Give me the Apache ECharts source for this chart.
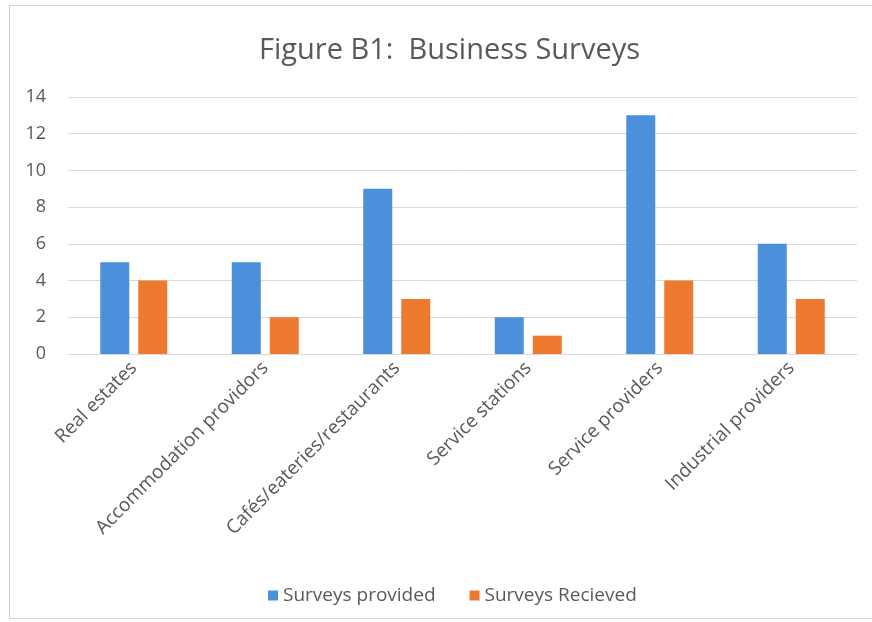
<!DOCTYPE html>
<html><head><meta charset="utf-8">
<script src="https://cdn.jsdelivr.net/npm/echarts@6/dist/echarts.min.js"></script>
<style>html,body{margin:0;padding:0;background:#fff}#c{width:872px;height:622px}
#frame{position:absolute;left:9px;top:5px;width:870px;height:612px;border:1px solid #d0d0d0;border-right:none;pointer-events:none}</style>
</head><body><div id="c"></div><div id="frame"></div>
<script>
const categories = ["Real estates","Accommodation providors","Cafés/eateries/restaurants","Service stations","Service providers","Industrial providers"];
const provided = [5,5,9,2,13,6];
const received = [4,2,3,1,4,3];
const seriesNames = ["Surveys provided","Surveys Recieved"];
const font = "Open Sans";
const chart = echarts.init(document.getElementById('c'));
chart.setOption({
  animation:false,
  title:{text:"Figure B1:  Business Surveys",left:254,top:31,textStyle:{fontFamily:font,fontSize:29,fontWeight:'normal',color:'#595959'}},
  grid:{left:68,right:15,top:97,bottom:268},
  legend:{bottom:12,left:263,itemWidth:10,itemHeight:10,itemGap:34,icon:'rect',textStyle:{fontFamily:font,fontSize:19,color:'#595959'},data:seriesNames},
  xAxis:{type:'category',data:categories,axisLine:{show:true,lineStyle:{color:'#d9d9d9'}},axisTick:{show:false},
    axisLabel:{rotate:45,interval:0,fontFamily:font,fontSize:19,color:'#595959',margin:11}},
  yAxis:{type:'value',min:0,max:14,interval:2,axisLine:{show:false},axisTick:{show:false},
    splitLine:{lineStyle:{color:'#d9d9d9'}},axisLabel:{fontFamily:font,fontSize:18,color:'#595959',margin:22}},
  series:[
    {name:seriesNames[0],type:'bar',data:provided,barWidth:29,barGap:'31%',itemStyle:{color:'#4A90DA'}},
    {name:seriesNames[1],type:'bar',data:received,barWidth:29,itemStyle:{color:'#EE7A30'}}
  ]
});
</script></body></html>
